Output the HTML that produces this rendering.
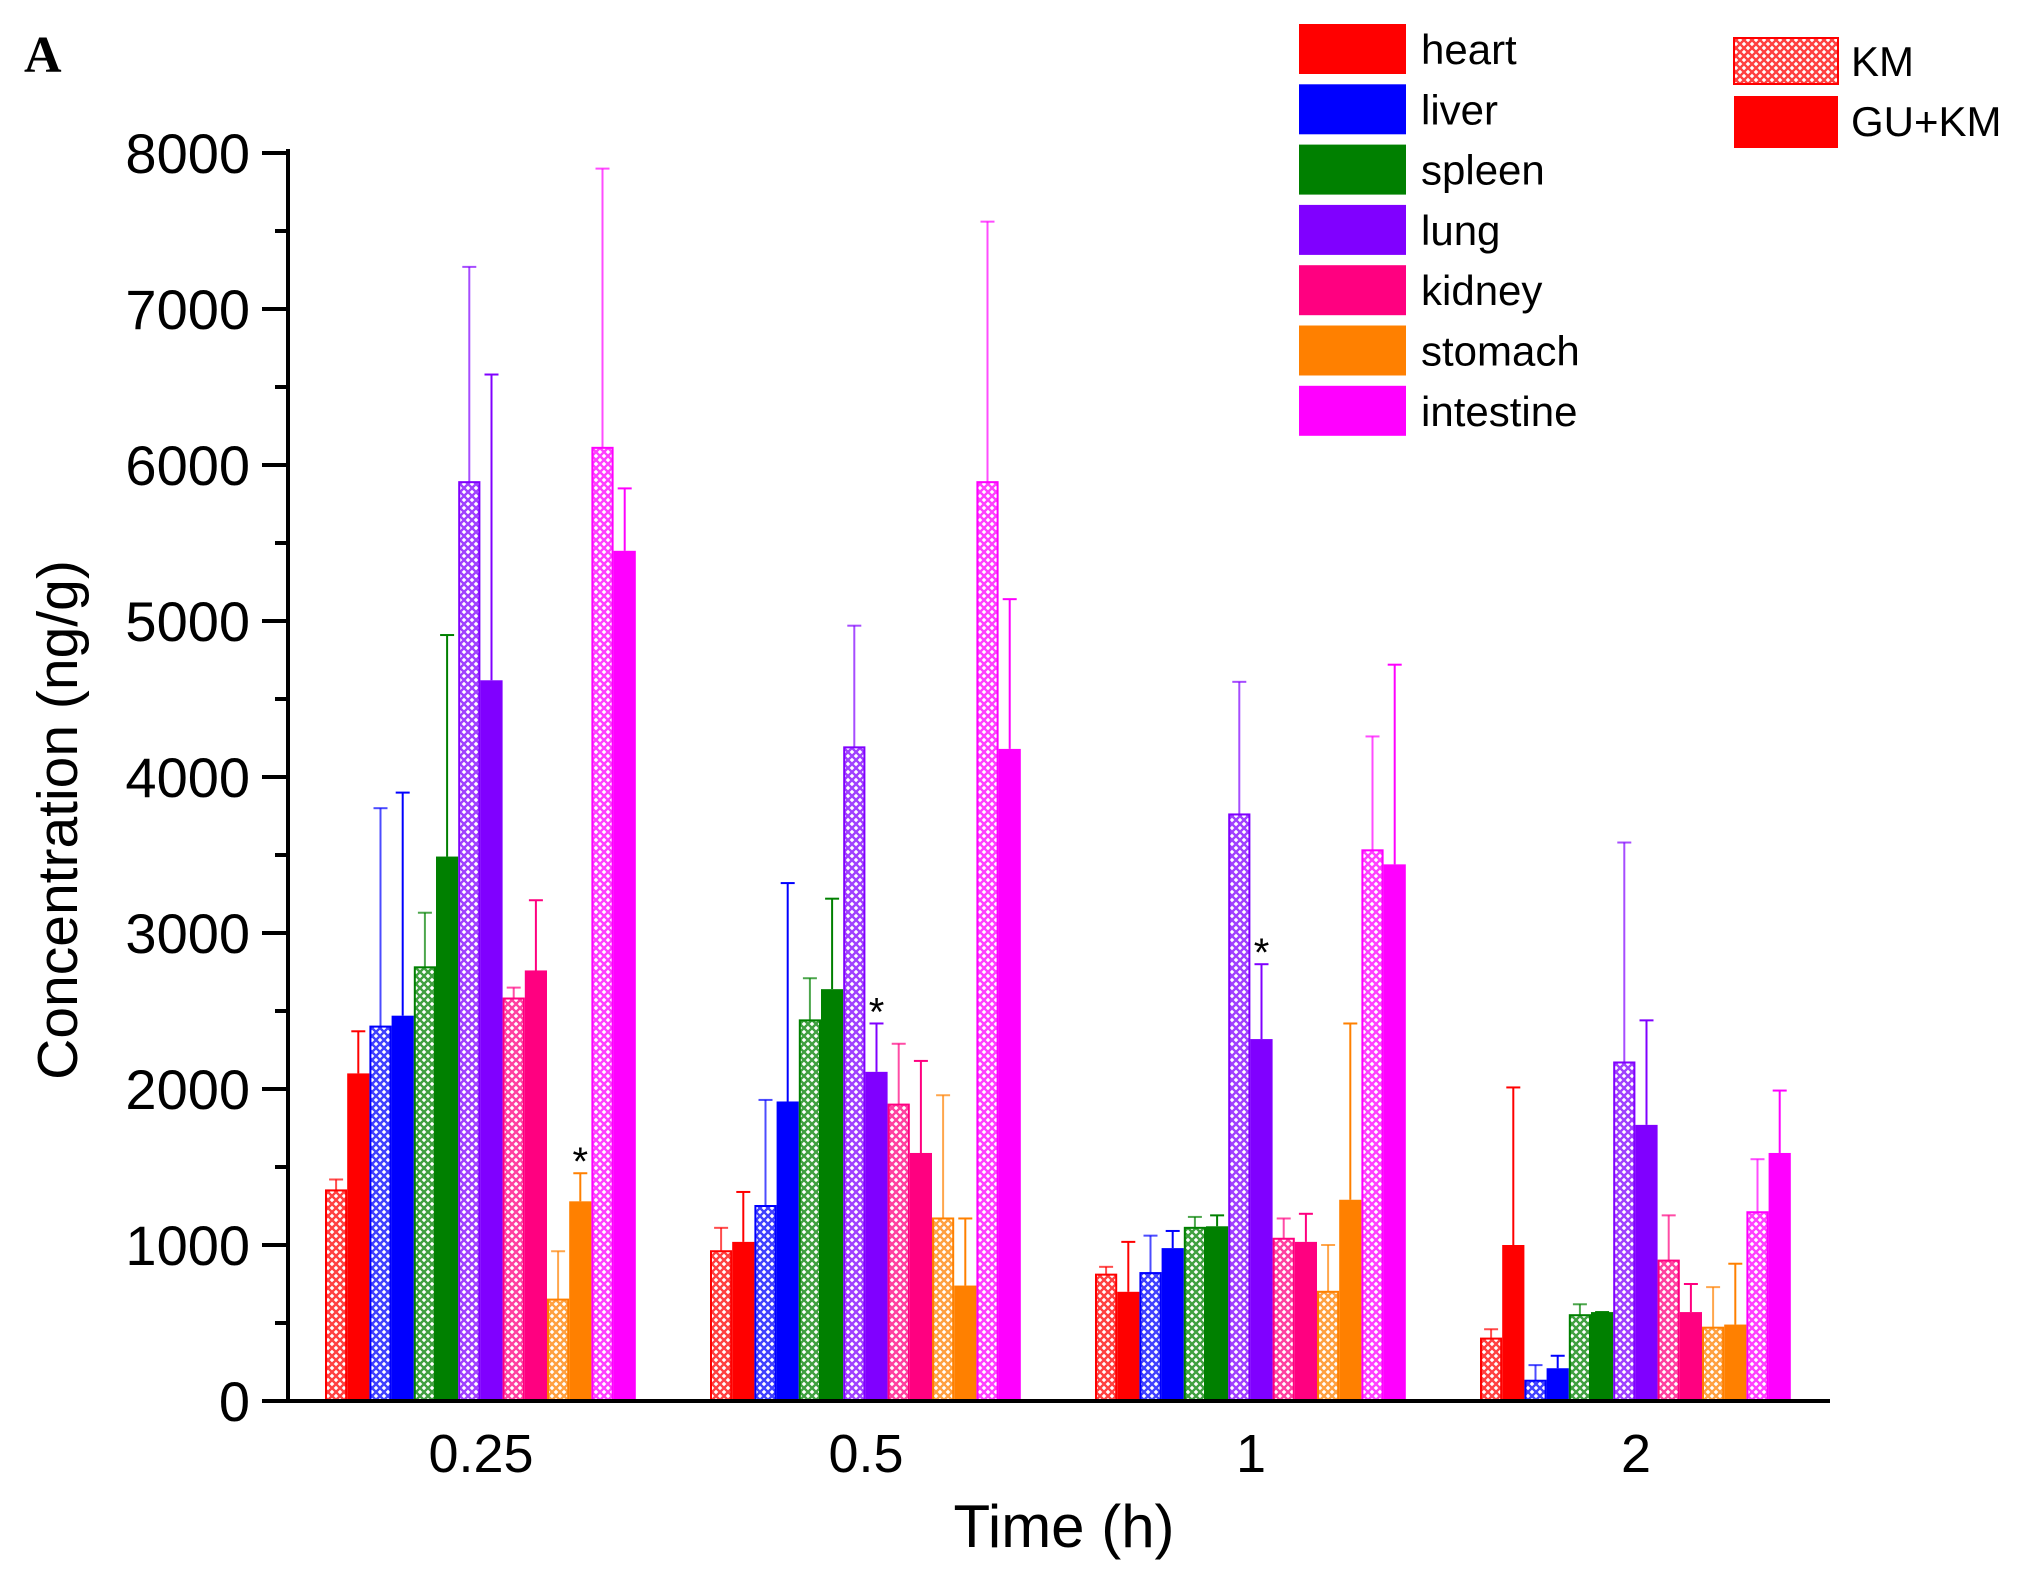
<!DOCTYPE html>
<html><head><meta charset="utf-8"><style>
html,body{margin:0;padding:0;background:#fff;}
svg{display:block;font-family:"Liberation Sans",Arial,sans-serif;}
</style></head><body>
<svg id="s" width="2037" height="1586" viewBox="0 0 2037 1586" xmlns="http://www.w3.org/2000/svg">
<defs id="d"></defs>
<g id="bars"></g>
<line x1="288" y1="149" x2="288" y2="1403" stroke="#000" stroke-width="4"/>
<line x1="262" y1="1401" x2="1830" y2="1401" stroke="#000" stroke-width="4"/>
<g id="ticks" stroke="#000" stroke-width="4"></g>
<g font-size="56" text-anchor="end" fill="#000">
<text x="250" y="1421">0</text>
<text x="250" y="1265">1000</text>
<text x="250" y="1109">2000</text>
<text x="250" y="953">3000</text>
<text x="250" y="797">4000</text>
<text x="250" y="641">5000</text>
<text x="250" y="485">6000</text>
<text x="250" y="329">7000</text>
<text x="250" y="173">8000</text>
</g>
<g font-size="54" text-anchor="middle">
<text x="481" y="1472">0.25</text>
<text x="866" y="1472">0.5</text>
<text x="1251" y="1472">1</text>
<text x="1636" y="1472">2</text>
</g>
<text x="1064" y="1547" font-size="60" text-anchor="middle">Time (h)</text>
<text transform="translate(77,820) rotate(-90)" font-size="57" text-anchor="middle">Concentration (ng/g)</text>
<text x="24" y="72" font-family="Liberation Serif,serif" font-weight="bold" font-size="52">A</text>
<g id="leg" font-size="42"></g>
<rect x="1734" y="38" width="104" height="46" fill="url(#p0)" stroke="#ff0000" stroke-width="2"/>
<rect x="1734" y="96" width="104" height="52" fill="#ff0000"/>
<text x="1851" y="76" font-size="42">KM</text>
<text x="1851" y="136" font-size="42">GU+KM</text>
<g id="stars" font-size="40" text-anchor="middle"></g>
</svg>
<script>
var NS="http://www.w3.org/2000/svg";
var cols=["#ff0000","#0000ff","#008000","#8000ff","#ff0080","#ff8000","#ff00ff"];
var names=["heart","liver","spleen","lung","kidney","stomach","intestine"];
var d=document.getElementById("d");
function el(t,a,p){var e=document.createElementNS(NS,t);for(var k in a)e.setAttribute(k,a[k]);if(p)p.appendChild(e);return e;}
cols.forEach(function(c,i){
 var p=el("pattern",{id:"p"+i,width:"8",height:"8",patternUnits:"userSpaceOnUse"},d);
 el("rect",{width:8,height:8,fill:"#fff"},p);
 el("path",{d:"M0,0L8,8M8,0L0,8",stroke:c,"stroke-width":"2.4","stroke-opacity":"0.75"},p);
});
var data=[
[[1350,1420,2100,2370],[2400,3800,2470,3900],[2780,3130,3490,4910],[5890,7270,4620,6580],[2580,2650,2760,3210],[650,960,1280,1460],[6110,7900,5450,5850]],
[[960,1110,1020,1340],[1250,1930,1920,3320],[2440,2710,2640,3220],[4190,4970,2110,2420],[1900,2290,1590,2180],[1170,1960,740,1170],[5890,7560,4180,5140]],
[[810,860,700,1020],[820,1060,980,1090],[1110,1180,1120,1190],[3760,4610,2320,2800],[1040,1170,1020,1200],[700,1000,1290,2420],[3530,4260,3440,4720]],
[[400,460,1000,2010],[130,230,210,290],[550,620,570,570],[2170,3580,1770,2440],[900,1190,570,750],[470,730,490,880],[1210,1550,1590,1990]]];
var stars=[[0,5],[1,3],[2,3]];
var g=document.getElementById("bars");
function Y(v){return 1401-v*0.156;}
var bw=22.2,GS=385;
for(var gi=0;gi<4;gi++){var x0=325+gi*GS;
 for(var o=0;o<7;o++){for(var k=0;k<2;k++){
  var v=data[gi][o][k*2],e=data[gi][o][k*2+1],x=x0+(o*2+k)*bw,c=cols[o];
  var cx=x+bw/2;
  el("line",{x1:cx,y1:Y(v),x2:cx,y2:Y(e),stroke:c,"stroke-width":2,"stroke-opacity":k?1:0.7},g);
  el("line",{x1:cx-7,y1:Y(e),x2:cx+7,y2:Y(e),stroke:c,"stroke-width":2,"stroke-opacity":k?1:0.7},g);
  if(k==0) el("rect",{x:x+1,y:Y(v),width:bw-2,height:v*0.156,fill:"url(#p"+o+")",stroke:c,"stroke-width":2},g);
  else el("rect",{x:x,y:Y(v),width:bw,height:v*0.156,fill:c},g);
 }}
}
var st=document.getElementById("stars");
stars.forEach(function(s){var x=325+s[0]*GS+(s[1]*2+1)*bw+bw/2;var t=el("text",{x:x,y:Y(data[s[0]][s[1]][3])+2},st);t.textContent="*";});
var tk=document.getElementById("ticks");
for(var v=0;v<=8000;v+=500){var y=Y(v);el("line",{x1:v%1000?275:262,y1:y,x2:288,y2:y},tk);}
var lg=document.getElementById("leg");
names.forEach(function(n,i){var y=24+i*60.3;el("rect",{x:1299,y:y,width:107,height:50,fill:cols[i]},lg);var t=el("text",{x:1421,y:y+40},lg);t.textContent=n;});
</script>
</body></html>
